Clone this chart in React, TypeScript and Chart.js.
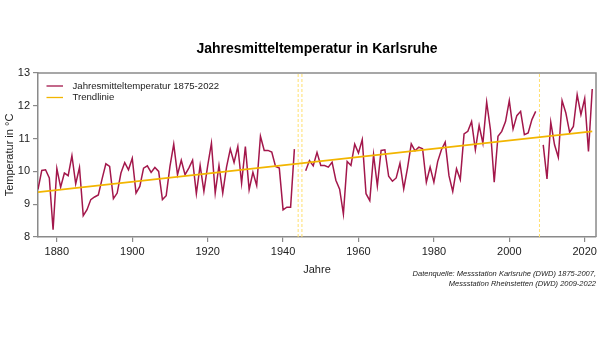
import { useEffect, useRef } from 'react';
import Chart from 'chart.js/auto';

const FIRST_YEAR = 1875;
const TEMPS: (number | null)[] = [
  9.45, 10.03, 10.05, 9.8, 8.22, 10.09, 9.52, 9.95, 9.87, 10.48,
  9.62, 10.12, 8.65, 8.83, 9.14, 9.22, 9.28, 9.77, 10.23, 10.15,
  9.17, 9.34, 9.95, 10.27, 10.05, 10.4, 9.34, 9.54, 10.1, 10.17,
  9.97, 10.12, 10.0, 9.14, 9.26, 10.15, 10.83, 9.9, 10.34, 9.9,
  10.1, 10.34, 9.32, 10.18, 9.39, 10.17, 10.86, 9.34, 10.18, 9.34,
  10.13, 10.68, 10.27, 10.76, 9.64, 10.76, 9.44, 9.97, 9.57, 11.07,
  10.64, 10.64, 10.59, 10.15, 10.1, 8.83, 8.91, 8.91, 10.68, null,
  null, 10.02, 10.33, 10.17, 10.58, 10.18, 10.18, 10.13, 10.28, 9.73,
  9.46, 8.7, 10.3, 10.18, 10.83, 10.56, 10.97, 9.32, 9.11, 10.51,
  9.56, 10.64, 10.66, 9.85, 9.7, 9.8, 10.25, 9.47, 10.1, 10.84,
  10.63, 10.74, 10.69, 9.67, 10.13, 9.67, 10.3, 10.66, 10.89, 9.87,
  9.39, 10.08, 9.75, 11.14, 11.22, 11.52, 10.66, 11.4, 10.86, 12.11,
  11.27, 9.67, 11.07, 11.22, 11.52, 12.16, 11.29, 11.7, 11.83, 11.12,
  11.17, 11.58, 11.83, null, 10.81, 9.77, 11.5, 10.81, 10.43, 12.16,
  11.78, 11.19, 11.37, 12.34, 11.73, 12.22, 10.61, 12.51,
];
const YEARS = TEMPS.map((_, i) => FIRST_YEAR + i);
const TREND_YEARS = [1875, 2022];
const TREND_VALUES = [9.37, 11.22];
const GAP_YEARS = [1944, 1945, 2008];
const X_TICKS = [1880, 1900, 1920, 1940, 1960, 1980, 2000, 2020];
const Y_TICKS = [8, 9, 10, 11, 12, 13];

const TITLE = 'Jahresmitteltemperatur in Karlsruhe';
const SERIES_LABEL = 'Jahresmitteltemperatur 1875-2022';
const TREND_LABEL = 'Trendlinie';
const X_TITLE = 'Jahre';
const Y_TITLE = 'Temperatur in °C';
const CAPTION = [
  'Datenquelle: Messstation Karlsruhe (DWD) 1875-2007,',
  'Messstation Rheinstetten (DWD) 2009-2022',
];

const FONT = '"Liberation Sans", Arial, sans-serif';
const DATA_COLOR = '#a3174b';
const TREND_COLOR = '#f2b500';
const GAP_COLOR = '#ffdf6e';
const FRAME_COLOR = '#8a8a8a';
const TEXT_COLOR = '#222222';

export default function App() {
  const ref = useRef<HTMLCanvasElement>(null);

  useEffect(() => {
    if (!ref.current) return;

    const textPlugin = {
      id: 'texts',
      afterDraw(chart: any) {
        const ctx = chart.ctx as CanvasRenderingContext2D;
        const a = chart.chartArea;
        ctx.save();
        ctx.strokeStyle = FRAME_COLOR;
        ctx.lineWidth = 1.5;
        ctx.beginPath();
        ctx.moveTo(a.left, a.top);
        ctx.lineTo(a.right, a.top);
        ctx.lineTo(a.right, a.bottom);
        ctx.stroke();

        ctx.fillStyle = '#000';
        ctx.textAlign = 'center';
        ctx.textBaseline = 'middle';
        ctx.font = `bold 14px ${FONT}`;
        ctx.fillText(TITLE, (a.left + a.right) / 2, 49);

        ctx.font = `9.6px ${FONT}`;
        ctx.textAlign = 'left';
        ctx.fillStyle = TEXT_COLOR;
        const items = [
          { label: SERIES_LABEL, color: DATA_COLOR, y: 86 },
          { label: TREND_LABEL, color: TREND_COLOR, y: 97.5 },
        ];
        for (const it of items) {
          ctx.strokeStyle = it.color;
          ctx.lineWidth = 1.3;
          ctx.beginPath();
          ctx.moveTo(a.left + 8.5, it.y);
          ctx.lineTo(a.left + 25, it.y);
          ctx.stroke();
          ctx.fillText(it.label, a.left + 34.5, it.y);
        }

        ctx.font = `11px ${FONT}`;
        ctx.fillStyle = TEXT_COLOR;
        ctx.textAlign = 'center';
        ctx.fillText(X_TITLE, (a.left + a.right) / 2, 270);
        ctx.save();
        ctx.translate(10, (a.top + a.bottom) / 2);
        ctx.rotate(-Math.PI / 2);
        ctx.fillText(Y_TITLE, 0, 0);
        ctx.restore();

        ctx.font = `italic 7.5px ${FONT}`;
        ctx.textAlign = 'right';
        ctx.fillText(CAPTION[0], 596, 274);
        ctx.fillText(CAPTION[1], 596, 283.5);
        ctx.restore();
      },
    };

    const tickFont = { family: FONT, size: 11 };

    const chart = new Chart(ref.current, {
      type: 'line',
      data: {
        datasets: [
          {
            label: TREND_LABEL,
            data: TREND_YEARS.map((x, i) => ({ x, y: TREND_VALUES[i] })),
            borderColor: TREND_COLOR,
            borderWidth: 1.8,
            pointRadius: 0,
          },
          {
            label: SERIES_LABEL,
            data: YEARS.map((x, i) => ({ x, y: TEMPS[i] })),
            borderColor: DATA_COLOR,
            borderWidth: 1.5,
            pointRadius: 0,
            spanGaps: false,
          },
          ...GAP_YEARS.map((yr) => ({
            label: 'gap',
            data: [
              { x: yr, y: Y_TICKS[0] },
              { x: yr, y: Y_TICKS[Y_TICKS.length - 1] },
            ],
            borderColor: GAP_COLOR,
            borderWidth: 1,
            borderDash: [3, 2],
            pointRadius: 0,
          })),
        ] as any,
      },
      options: {
        responsive: false,
        animation: false,
        layout: { padding: { top: 73, right: 3, left: 0, bottom: 0 } },
        plugins: { legend: { display: false }, tooltip: { enabled: false } },
        scales: {
          x: {
            type: 'linear',
            min: 1875,
            max: 2023,
            afterBuildTicks: (s: any) => {
              s.ticks = X_TICKS.map((v) => ({ value: v }));
            },
            afterFit: (s: any) => {
              s.height = 101;
            },
            ticks: {
              font: tickFont,
              color: TEXT_COLOR,
              padding: 3,
              maxRotation: 0,
              autoSkip: false,
              callback: (v: any) => String(v),
            },
            grid: { drawOnChartArea: false, drawTicks: true, tickLength: 5, color: FRAME_COLOR, lineWidth: 1.2 },
            border: { color: FRAME_COLOR, width: 1.5 },
          },
          y: {
            min: 8,
            max: 13,
            afterBuildTicks: (s: any) => {
              s.ticks = Y_TICKS.map((v) => ({ value: v }));
            },
            afterFit: (s: any) => {
              s.width = 38;
            },
            ticks: {
              font: tickFont,
              color: TEXT_COLOR,
              padding: 3,
              callback: (v: any) => String(v),
            },
            grid: { drawOnChartArea: false, drawTicks: true, tickLength: 5, color: FRAME_COLOR, lineWidth: 1.2 },
            border: { color: FRAME_COLOR, width: 1.5 },
          },
        },
      },
      plugins: [textPlugin],
    } as any);

    return () => chart.destroy();
  }, []);

  return (
    <div style={{ position: 'fixed', left: 0, top: 0, width: 600, height: 338, background: '#fff' }}>
      <canvas ref={ref} width={600} height={338} style={{ display: 'block' }} />
    </div>
  );
}
